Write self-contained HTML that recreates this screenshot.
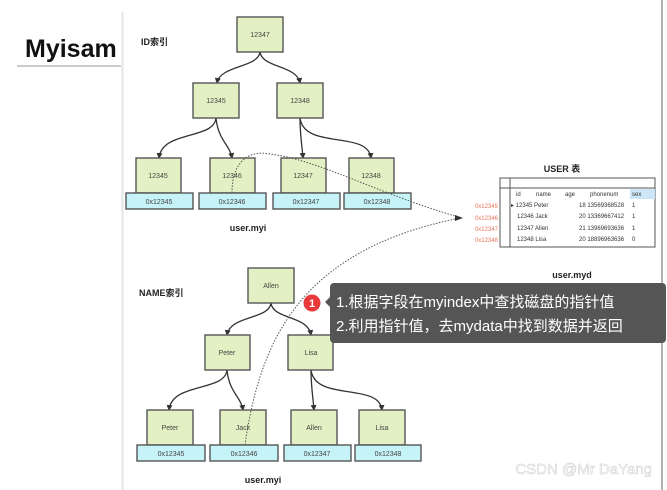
<!DOCTYPE html>
<html><head><meta charset="utf-8"><style>
body{margin:0;background:#fff;}
svg{display:block;font-family:"Liberation Sans","Noto Sans CJK SC",sans-serif;}
.n{fill:#e3f0c3;stroke:#555;stroke-width:1.4}
.p{fill:#c6f3f8;stroke:#555;stroke-width:1.4}
.t{font-size:7px;fill:#444;text-anchor:middle}
.e{fill:none;stroke:#333;stroke-width:1.3}
.d{fill:none;stroke:#555;stroke-width:1;stroke-dasharray:1.5 1.5}
</style></head><body>
<svg width="667" height="490" viewBox="0 0 667 490">
<defs><marker id="a" markerWidth="6" markerHeight="6" refX="5" refY="3" orient="auto" markerUnits="userSpaceOnUse"><path d="M0,0L6,3L0,6z" fill="#333"/></marker></defs>
<line x1="122.5" y1="12" x2="122.5" y2="490" stroke="#e4e4e4" stroke-width="2"/>
<line x1="662" y1="0" x2="662" y2="490" stroke="#666" stroke-width="1"/>
<text x="25" y="57" font-size="25" font-weight="bold" fill="#111">Myisam</text>
<line x1="17" y1="66" x2="121" y2="66" stroke="#bbb" stroke-width="1.5"/>
<text x="141" y="45" font-size="9" font-weight="bold" fill="#222">ID索引</text>
<text x="139" y="296" font-size="9" font-weight="bold" fill="#222">NAME索引</text>
<path class="e" marker-end="url(#a)" d="M260,52 C258,68 220,65 217,83"/>
<path class="e" marker-end="url(#a)" d="M260,52 C262,68 297,65 300,83"/>
<path class="e" marker-end="url(#a)" d="M216,118 C214,140 162,130 159,158"/>
<path class="e" marker-end="url(#a)" d="M216,118 C218,140 230,145 232,158"/>
<path class="e" marker-end="url(#a)" d="M300,118 C300,135 302,145 303,158"/>
<path class="e" marker-end="url(#a)" d="M300,118 C304,150 368,130 371,158"/>
<rect class="n" x="237" y="17" width="46" height="35"/><text class="t" x="260" y="37">12347</text>
<rect class="n" x="193" y="83" width="46" height="35"/><text class="t" x="216" y="103">12345</text>
<rect class="n" x="277" y="83" width="46" height="35"/><text class="t" x="300" y="103">12348</text>
<rect class="n" x="136" y="158" width="45" height="35"/><text class="t" x="158" y="178">12345</text>
<rect class="n" x="210" y="158" width="45" height="35"/><text class="t" x="232" y="178">12346</text>
<rect class="n" x="281" y="158" width="45" height="35"/><text class="t" x="303" y="178">12347</text>
<rect class="n" x="349" y="158" width="45" height="35"/><text class="t" x="371" y="178">12348</text>
<rect class="p" x="126" y="193" width="67" height="16"/><text class="t" x="159" y="204">0x12345</text>
<rect class="p" x="199" y="193" width="67" height="16"/><text class="t" x="232" y="204">0x12346</text>
<rect class="p" x="273" y="193" width="67" height="16"/><text class="t" x="306" y="204">0x12347</text>
<rect class="p" x="344" y="193" width="67" height="16"/><text class="t" x="377" y="204">0x12348</text>
<text x="248" y="231" font-size="9" font-weight="bold" fill="#222" text-anchor="middle">user.myi</text>
<path class="e" marker-end="url(#a)" d="M271,303 C269,320 230,315 227,335"/>
<path class="e" marker-end="url(#a)" d="M271,303 C273,320 308,315 311,335"/>
<path class="e" marker-end="url(#a)" d="M227,370 C225,392 172,382 169,410"/>
<path class="e" marker-end="url(#a)" d="M227,370 C229,392 241,397 243,410"/>
<path class="e" marker-end="url(#a)" d="M311,370 C311,387 313,397 314,410"/>
<path class="e" marker-end="url(#a)" d="M311,370 C315,402 379,382 382,410"/>
<rect class="n" x="248" y="268" width="46" height="35"/><text class="t" x="271" y="288">Allen</text>
<rect class="n" x="205" y="335" width="45" height="35"/><text class="t" x="227" y="355">Peter</text>
<rect class="n" x="288" y="335" width="45" height="35"/><text class="t" x="311" y="355">Lisa</text>
<rect class="n" x="147" y="410" width="46" height="35"/><text class="t" x="170" y="430">Peter</text>
<rect class="n" x="220" y="410" width="46" height="35"/><text class="t" x="243" y="430">Jack</text>
<rect class="n" x="291" y="410" width="46" height="35"/><text class="t" x="314" y="430">Allen</text>
<rect class="n" x="359" y="410" width="46" height="35"/><text class="t" x="382" y="430">Lisa</text>
<rect class="p" x="137" y="445" width="68" height="16"/><text class="t" x="171" y="456">0x12345</text>
<rect class="p" x="210" y="445" width="68" height="16"/><text class="t" x="244" y="456">0x12346</text>
<rect class="p" x="284" y="445" width="67" height="16"/><text class="t" x="317" y="456">0x12347</text>
<rect class="p" x="355" y="445" width="66" height="16"/><text class="t" x="388" y="456">0x12348</text>
<text x="263" y="483" font-size="9" font-weight="bold" fill="#222" text-anchor="middle">user.myi</text>
<path class="d" d="M232,193 C232,160 250,150 270,154 C320,160 380,195 462,218"/>
<path class="d" d="M245,445 C260,340 300,250 460,218"/>
<path d="M455,215L463,218L455,221z" fill="#333"/>
<text x="562" y="172" font-size="9" font-weight="bold" fill="#222" text-anchor="middle">USER 表</text>
<rect x="500" y="178" width="155" height="69" fill="#fff" stroke="#555"/>
<line x1="500" y1="188" x2="655" y2="188" stroke="#555"/>
<line x1="510" y1="178" x2="510" y2="247" stroke="#555"/>
<rect x="630" y="189" width="25" height="10" fill="#cde6f7"/>
<g font-size="6" fill="#333">
<text x="516" y="196">id</text><text x="536" y="196">name</text><text x="565" y="196">age</text><text x="590" y="196">phonenum</text><text x="632" y="196">sex</text>
<text x="511" y="207">▸ 12345 Peter</text><text x="579" y="207">18 13569368528</text><text x="632" y="207">1</text>
<text x="517" y="218">12346 Jack</text><text x="579" y="218">20 13369667412</text><text x="632" y="218">1</text>
<text x="517" y="230">12347 Allen</text><text x="579" y="230">21 13969693636</text><text x="632" y="230">1</text>
<text x="517" y="241">12348 Lisa</text><text x="579" y="241">20 18896963636</text><text x="632" y="241">0</text>
</g>
<g font-size="6" fill="#e8735a" text-anchor="end">
<text x="498" y="208">0x12345</text><text x="498" y="220">0x12346</text><text x="498" y="231">0x12347</text><text x="498" y="242">0x12348</text>
</g>
<text x="572" y="278" font-size="9" font-weight="bold" fill="#222" text-anchor="middle">user.myd</text>
<rect x="330" y="283" width="336" height="60" rx="4" fill="#555"/>
<path d="M330,297L325,302L330,307z" fill="#555"/>
<circle cx="312" cy="303" r="8.5" fill="#e83a3a"/>
<text x="312" y="307" font-size="11" font-weight="bold" fill="#fff" text-anchor="middle">1</text>
<text x="336" y="307" font-size="15" fill="#fff">1.根据字段在myindex中查找磁盘的指针值</text>
<text x="336" y="331" font-size="15" fill="#fff">2.利用指针值，去mydata中找到数据并返回</text>
<text x="652" y="474" font-size="15" fill="#fff" stroke="#ccc" stroke-width="0.5" text-anchor="end">CSDN @Mr DaYang</text>
</svg>
</body></html>
